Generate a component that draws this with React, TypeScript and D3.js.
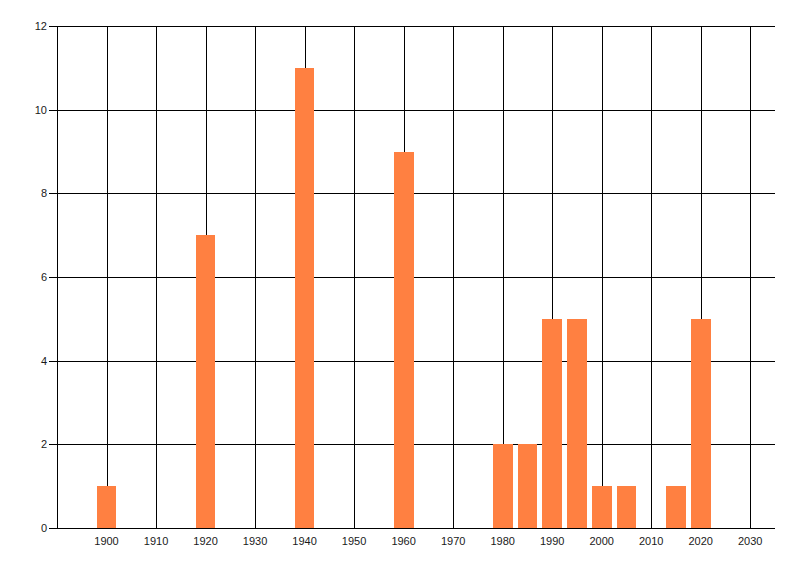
import * as d3 from "d3";
import { useRef, useEffect } from "react";

// data
const years = [1900, 1920, 1940, 1960, 1980, 1985, 1990, 1995, 2000, 2005, 2015, 2020];
const counts = [1, 7, 11, 9, 2, 2, 5, 5, 1, 1, 1, 5];
const xTicks = [1900, 1910, 1920, 1930, 1940, 1950, 1960, 1970, 1980, 1990, 2000, 2010, 2020, 2030];
const yTicks = [0, 2, 4, 6, 8, 10, 12];

export default function App() {
  const svgRef = useRef<SVGSVGElement | null>(null);

  useEffect(() => {
    if (!svgRef.current) return;
    const width = 800;
    const height = 576;
    const margin = { top: 26, right: 25, bottom: 48, left: 57 };

    const svg = d3.select(svgRef.current);
    svg.selectAll("*").remove();

    const x = d3.scaleLinear().domain([1890, 2035]).range([margin.left, width - margin.right]);
    const y = d3.scaleLinear().domain([0, 12]).range([height - margin.bottom, margin.top]);

    const font = "'Liberation Sans', Arial, sans-serif";

    // vertical grid
    svg.append("g")
      .attr("shape-rendering", "crispEdges")
      .selectAll("line")
      .data(xTicks)
      .join("line")
      .attr("x1", d => Math.round(x(d)) + 0.5)
      .attr("x2", d => Math.round(x(d)) + 0.5)
      .attr("y1", y(12))
      .attr("y2", y(0))
      .attr("stroke", "#000")
      .attr("stroke-width", 1);

    // horizontal grid + ticks
    svg.append("g")
      .attr("shape-rendering", "crispEdges")
      .selectAll("line")
      .data(yTicks)
      .join("line")
      .attr("x1", margin.left - 8)
      .attr("x2", width - margin.right)
      .attr("y1", d => Math.round(y(d)) + 0.5)
      .attr("y2", d => Math.round(y(d)) + 0.5)
      .attr("stroke", "#000")
      .attr("stroke-width", 1);

    // y axis line
    svg.append("line")
      .attr("shape-rendering", "crispEdges")
      .attr("x1", margin.left + 0.5)
      .attr("x2", margin.left + 0.5)
      .attr("y1", y(12))
      .attr("y2", y(0))
      .attr("stroke", "#000");

    // bars
    const barW = 4;
    svg.append("g")
      .attr("shape-rendering", "crispEdges")
      .selectAll("rect")
      .data(years.map((yr, i) => ({ yr, v: counts[i] })))
      .join("rect")
      .attr("x", d => x(d.yr - barW / 2))
      .attr("width", d => x(d.yr + barW / 2) - x(d.yr - barW / 2))
      .attr("y", d => y(d.v))
      .attr("height", d => y(0) - y(d.v))
      .attr("fill", "#ff8041");

    // redraw bottom axis line over bars
    svg.append("line")
      .attr("shape-rendering", "crispEdges")
      .attr("x1", margin.left - 8)
      .attr("x2", width - margin.right)
      .attr("y1", Math.round(y(0)) + 0.5)
      .attr("y2", Math.round(y(0)) + 0.5)
      .attr("stroke", "#000");

    // y labels
    svg.append("g")
      .selectAll("text")
      .data(yTicks)
      .join("text")
      .attr("x", margin.left - 10)
      .attr("y", d => y(d))
      .attr("dy", "0.35em")
      .attr("text-anchor", "end")
      .style("font", `11px ${font}`)
      .attr("fill", "#1a1a1a")
      .text(d => d);

    // x labels
    svg.append("g")
      .selectAll("text")
      .data(xTicks)
      .join("text")
      .attr("x", d => x(d))
      .attr("y", y(0) + 17)
      .attr("text-anchor", "middle")
      .style("font", `11px ${font}`)
      .attr("fill", "#1a1a1a")
      .text(d => d);
  }, []);

  return (
    <svg
      ref={svgRef}
      width={800}
      height={576}
      style={{ position: "absolute", left: 0, top: 0, background: "#fff" }}
    ></svg>
  );
}
